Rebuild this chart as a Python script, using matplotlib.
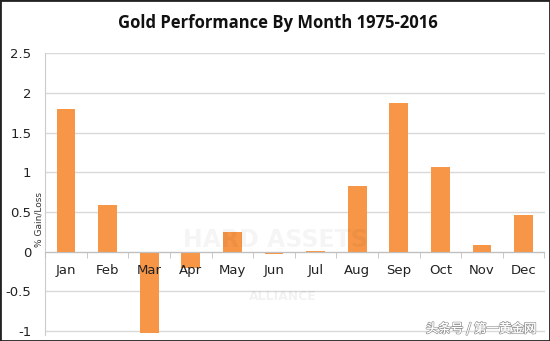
import matplotlib
matplotlib.use("Agg")
import matplotlib.pyplot as plt
import matplotlib.patheffects as pe
from matplotlib.patches import Rectangle
import numpy as np

months = ["Jan", "Feb", "Mar", "Apr", "May", "Jun", "Jul", "Aug", "Sep", "Oct", "Nov", "Dec"]
gain = [1.80, 0.59, -1.03, -0.20, 0.25, -0.03, 0.005, 0.83, 1.88, 1.07, 0.09, 0.46]
yticks = [-1, -0.5, 0, 0.5, 1, 1.5, 2, 2.5]
ytick_labels = ["-1", "-0.5", "0", "0.5", "1", "1.5", "2", "2.5"]

fig = plt.figure(figsize=(5.5, 3.41), dpi=100)
fig.patch.set_facecolor("white")
ax = fig.add_axes([0.082, 0.0176, 0.908, 0.826])

x = np.arange(len(months))
ax.bar(x, gain, width=0.45, color="#F79646", zorder=3)

ax.set_xlim(-0.5, len(months) - 0.5)
ax.set_ylim(-1.05, 2.5)
ax.set_yticks(yticks)
ax.set_yticklabels(ytick_labels, fontsize=9.5, color="#222222")
ax.yaxis.grid(True, color="#d9d9d9", linewidth=1.0, zorder=0)
ax.tick_params(axis="y", length=0, pad=10)

ax.spines["top"].set_visible(False)
ax.spines["right"].set_visible(False)
ax.spines["left"].set_color("#cccccc")
ax.spines["bottom"].set_position(("data", 0))
ax.spines["bottom"].set_color("#bfbfbf")
ax.spines["bottom"].set_zorder(4)
ax.xaxis.set_zorder(5)

ax.set_xticks(x)
ax.set_xticklabels(months, fontsize=9.5, color="#222222")
ax.set_xticks(np.arange(-0.5, len(months), 1), minor=True)
ax.tick_params(axis="x", which="major", length=0, pad=9)
ax.tick_params(axis="x", which="minor", length=4, color="#bfbfbf", direction="out")

ax.set_ylabel("% Gain/Loss", fontsize=6.5, color="#333333", labelpad=2)
ax.yaxis.set_label_coords(-0.003, 0.41)

fig.text(0.505, 0.932, "Gold Performance By Month 1975-2016", ha="center", va="center",
         fontsize=12, fontweight="bold", family="Open Sans", color="#111111")

# faint watermark
fig.text(0.50, 0.295, "HARD ASSETS", ha="center", va="center", fontsize=17,
         fontweight="bold", color="#000000", alpha=0.04, zorder=0)
fig.text(0.515, 0.13, "ALLIANCE", ha="center", va="center", fontsize=9,
         fontweight="bold", color="#000000", alpha=0.05, zorder=0)

t = fig.text(0.975, 0.035, "头条号 / 第一黄金网", ha="right", va="center", fontsize=9,
             family=["Noto Sans CJK SC", "DejaVu Sans"], color="white", zorder=10)
t.set_path_effects([pe.withStroke(linewidth=1.2, foreground="#999999"), pe.Normal()])

fig.patches.append(Rectangle((0, 0), 1, 1, transform=fig.transFigure, fill=False,
                             edgecolor="#222222", linewidth=2, zorder=20))

fig.savefig("out.png", dpi=100)
